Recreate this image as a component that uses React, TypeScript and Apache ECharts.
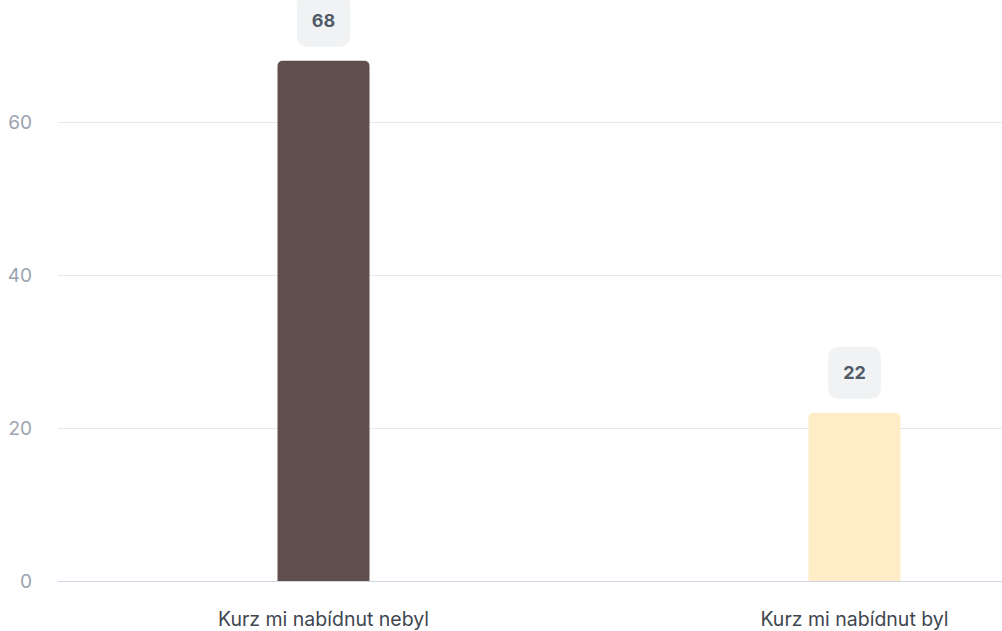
import React, { useEffect, useRef } from "react";
import * as echarts from "echarts";

const categories = ["Kurz mi nabídnut nebyl", "Kurz mi nabídnut byl"];
const values = [68, 22];
const barColors = ["#604f4d", "#feedc7"];

export default function App() {
  const ref = useRef<HTMLDivElement>(null);
  useEffect(() => {
    document.body.style.margin = "0";
    document.body.style.overflow = "hidden";
    document.documentElement.style.overflow = "hidden";
    const chart = echarts.init(ref.current!, null, { renderer: "svg" });
    chart.setOption({
      animation: false,
      textStyle: { fontFamily: "Inter" },
      grid: { left: 58, right: 0, top: 0, bottom: 50, containLabel: false },
      xAxis: {
        type: "category",
        data: categories,
        axisLine: { lineStyle: { color: "#cdd6e4", width: 1 } },
        axisTick: { show: false },
        axisLabel: { color: "#3f4650", fontSize: 19.5, margin: 28, fontFamily: "Inter" },
      },
      yAxis: {
        type: "value",
        min: 0,
        max: 80,
        interval: 20,
        axisLine: { show: false },
        axisTick: { show: false },
        splitLine: { lineStyle: { color: "#e5e7eb" } },
        axisLabel: {
          color: "#9ca3af",
          fontSize: 19,
          margin: 26,
          fontFamily: "Inter",
          showMaxLabel: false,
        },
      },
      series: [
        {
          type: "bar",
          barWidth: 92,
          data: values.map((v, i) => ({ value: v, itemStyle: { color: barColors[i] } })),
          itemStyle: { borderRadius: [5, 5, 0, 0] },
          label: {
            show: true,
            position: "top",
            distance: 14,
            color: "#515a67",
            fontWeight: "bold",
            fontSize: 18,
            fontFamily: "Inter",
            backgroundColor: "#f0f2f3",
            borderRadius: 10,
            padding: [17, 15, 17, 15],
          },
        },
      ],
    });
    return () => chart.dispose();
  }, []);
  return (
    <div
      ref={ref}
      style={{ position: "absolute", left: 0, top: -31, width: 1120, height: 662 }}
    />
  );
}
